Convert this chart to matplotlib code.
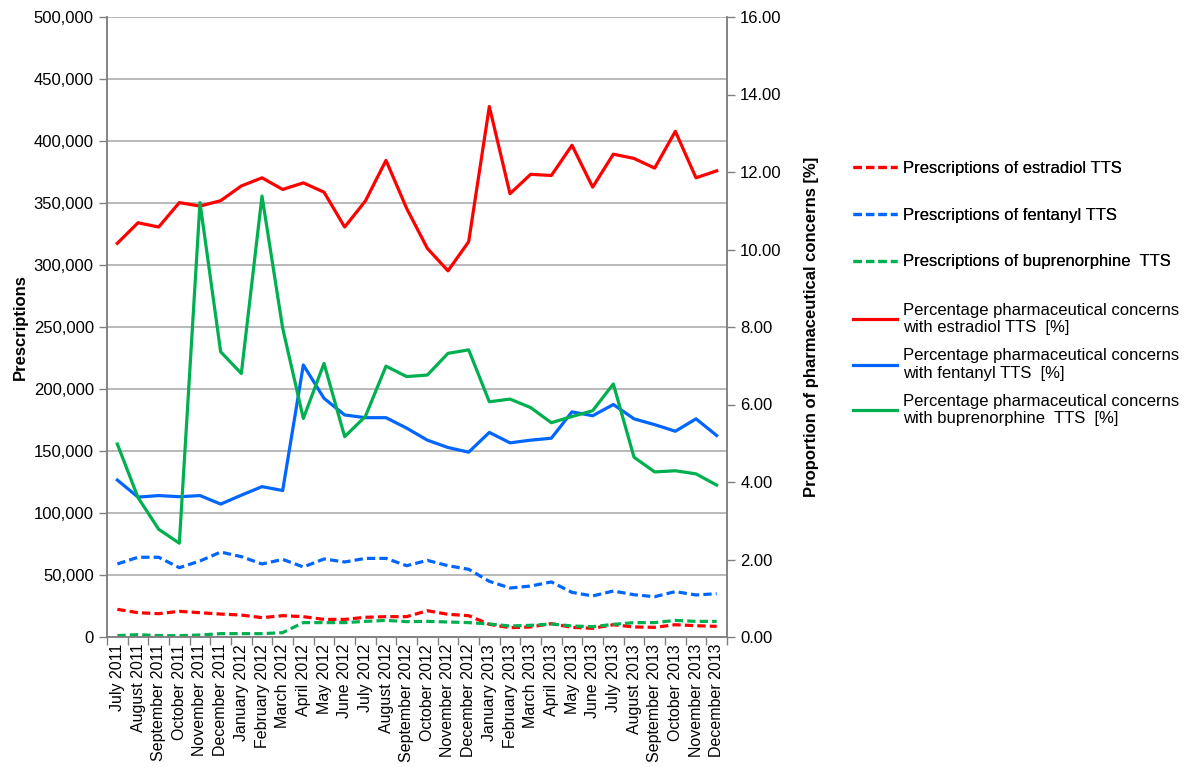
import numpy as np
import matplotlib
matplotlib.use("Agg")
import matplotlib.pyplot as plt
from matplotlib.ticker import FuncFormatter, MultipleLocator
from matplotlib.lines import Line2D

plt.rcParams['font.family'] = ['Liberation Sans', 'DejaVu Sans']

months = ['July 2011', 'August 2011', 'September 2011', 'October 2011', 'November 2011',
          'December 2011', 'January 2012', 'February 2012', 'March 2012', 'April 2012',
          'May 2012', 'June 2012', 'July 2012', 'August 2012', 'September 2012',
          'October 2012', 'November 2012', 'December 2012', 'January 2013', 'February 2013',
          'March 2013', 'April 2013', 'May 2013', 'June 2013', 'July 2013',
          'August 2013', 'September 2013', 'October 2013', 'November 2013', 'December 2013']

# prescriptions (left axis)
rx_estradiol = [22300, 19600, 18800, 20700, 19600, 18500, 17700, 15600, 17200, 16400,
                14200, 14200, 15900, 16400, 16400, 21200, 18300, 17200, 10200, 7500,
                8100, 10800, 7800, 7000, 9900, 8100, 7800, 9900, 9100, 8600]
rx_fentanyl = [58900, 64300, 64300, 55900, 61300, 68500, 64800, 58900, 62600, 56500,
               62900, 60500, 63400, 63400, 57500, 61800, 57500, 54600, 44900, 39500,
               41100, 44400, 36000, 33100, 37100, 34100, 32500, 36600, 33900, 34900]
rx_bupre = [1100, 1900, 1100, 1100, 1600, 2700, 2700, 2700, 3500, 11600,
            11600, 11600, 12600, 13400, 12400, 12600, 12100, 11600, 10500, 8900,
            9400, 10500, 8900, 8300, 10200, 11600, 11600, 13400, 12600, 12600]

# percentage of pharmaceutical concerns (right axis)
pc_estradiol = [10.16, 10.69, 10.58, 11.21, 11.12, 11.26, 11.64, 11.85, 11.55, 11.72,
                11.48, 10.58, 11.25, 12.30, 11.06, 10.03, 9.45, 10.20, 13.69, 11.44,
                11.94, 11.91, 12.69, 11.61, 12.46, 12.35, 12.10, 13.05, 11.85, 12.03]
pc_fentanyl = [4.05, 3.61, 3.65, 3.62, 3.65, 3.43, 3.66, 3.88, 3.78, 7.02,
               6.16, 5.73, 5.66, 5.66, 5.39, 5.08, 4.89, 4.77, 5.28, 5.01,
               5.08, 5.13, 5.81, 5.71, 6.00, 5.63, 5.48, 5.31, 5.63, 5.20]
pc_bupre = [4.98, 3.60, 2.78, 2.42, 11.21, 7.36, 6.80, 11.38, 7.97, 5.64,
            7.06, 5.17, 5.69, 6.99, 6.72, 6.76, 7.32, 7.41, 6.07, 6.14,
            5.92, 5.53, 5.69, 5.84, 6.53, 4.64, 4.26, 4.29, 4.21, 3.92]

RED = '#FF0000'
BLUE = '#0066FF'
GREEN = '#00B050'
GRID = '#A6A6A6'

x = np.arange(len(months))

fig = plt.figure(figsize=(11.84, 7.69), dpi=100)
ax = fig.add_axes([107 / 1184, 1 - 637 / 769, 620 / 1184, 620 / 769])
ax2 = ax.twinx()

dash = (0, (2.6, 1.3))
lw = 2.3
ax.plot(x, rx_estradiol, color=RED, lw=lw, linestyle=dash)
ax.plot(x, rx_fentanyl, color=BLUE, lw=lw, linestyle=dash)
ax.plot(x, rx_bupre, color=GREEN, lw=lw, linestyle=dash)

ax2.plot(x, pc_estradiol, color=RED, lw=lw)
ax2.plot(x, pc_fentanyl, color=BLUE, lw=lw)
ax2.plot(x, pc_bupre, color=GREEN, lw=lw)

ax.set_xlim(-0.5, len(months) - 0.5)
ax.set_ylim(0, 500000)
ax2.set_ylim(0, 16)

ax.yaxis.set_major_locator(MultipleLocator(50000))
ax.yaxis.set_major_formatter(FuncFormatter(lambda v, p: f'{int(v):,}'))
ax2.yaxis.set_major_locator(MultipleLocator(2))
ax2.yaxis.set_major_formatter(FuncFormatter(lambda v, p: f'{v:.2f}'))

ax.set_xticks(x)
ax.set_xticklabels(months, rotation=90)
ax.set_xticks(np.arange(-0.5, len(months)), minor=True)
ax.tick_params(axis='x', which='major', length=0, labelsize=11.5, pad=5)
ax.tick_params(axis='x', which='minor', length=6, color='#808080', width=1)
ax.tick_params(axis='y', length=6, color='#808080', width=1, labelsize=12)
ax2.tick_params(axis='y', length=6, color='#808080', width=1, labelsize=12)

ax.grid(axis='y', color=GRID, lw=1.1)
ax.set_axisbelow(True)

for a in (ax, ax2):
    a.spines['top'].set_visible(False)
    for s in ('left', 'right', 'bottom'):
        a.spines[s].set_color('#808080')
        a.spines[s].set_linewidth(1.1)

ax.set_ylabel('Prescriptions', fontsize=12, fontweight='bold', labelpad=4)
ax2.set_ylabel('Proportion of pharmaceutical concerns [%]', fontsize=12,
               fontweight='bold', labelpad=16)

h1 = [Line2D([], [], color=c, lw=lw, linestyle=dash) for c in (RED, BLUE, GREEN)]
l1 = ['Prescriptions of estradiol TTS', 'Prescriptions of fentanyl TTS',
      'Prescriptions of buprenorphine  TTS']
h2 = [Line2D([], [], color=c, lw=lw) for c in (RED, BLUE, GREEN)]
l2 = ['Percentage pharmaceutical concerns\nwith estradiol TTS  [%]',
      'Percentage pharmaceutical concerns\nwith fentanyl TTS  [%]',
      'Percentage pharmaceutical concerns\nwith buprenorphine  TTS  [%]']

leg1 = fig.legend(h1, l1, loc='upper left', bbox_to_anchor=(853 / 1184, 1 - 161 / 769),
                  frameon=False, fontsize=12, handlelength=2.65, handletextpad=0.36,
                  labelspacing=1.9, borderpad=0, borderaxespad=0)
leg2 = fig.legend(h2, l2, loc='upper left', bbox_to_anchor=(853 / 1184, 1 - 303 / 769),
                  frameon=False, fontsize=12, handlelength=2.65, handletextpad=0.36,
                  labelspacing=0.78, borderpad=0, borderaxespad=0)
fig.add_artist(leg1)

fig.savefig('out.png', dpi=100)
